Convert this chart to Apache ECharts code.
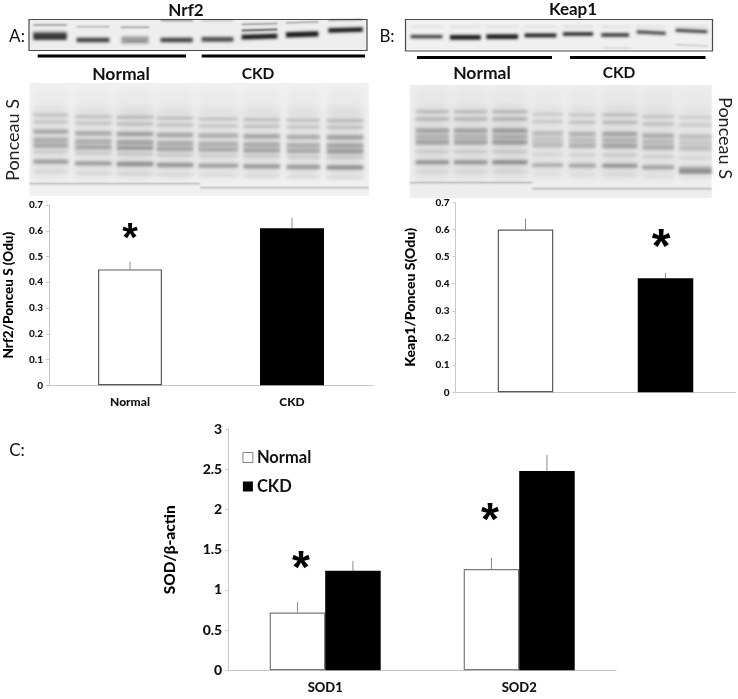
<!DOCTYPE html>
<html><head><meta charset="utf-8">
<style>html,body{margin:0;padding:0;background:#fff}#c{width:738px;height:699px}</style>
<script src="https://cdn.jsdelivr.net/npm/echarts@6/dist/echarts.min.js"></script>
</head><body><div id="c"></div>
<script>
// ---- chart values ----
const nrfCats = ['Normal', 'CKD'];
const nrfValues = [0.45, 0.61];
const nrfErrTop = [0.48, 0.65];
const keapCats = ['', ''];
const keapValues = [0.60, 0.42];
const keapErrTop = [0.64, 0.44];
const sodCats = ['SOD1', 'SOD2'];
const sodNormal = [0.72, 1.26];
const sodCKD = [1.24, 2.48];
const sodNormalErrTop = [0.85, 1.40];
const sodCKDErrTop = [1.36, 2.68];

// ---- blot appearance (zoomed-crop units, 1/3 px) ----
const blotALanes = [[100,200],[230,328],[362,447],[482,578],[605,700],[725,832],[858,955],[985,1088]];
const blotAMainY = [110,120,120,120,118,110,103,90];
const blotAMainH = [20,14,26,14,14,14,16,14];
const blotAMainD = [.85,.8,.4,.8,.75,1,1,1];
const blotAUpperY = [75,80,82,62,62,72,67,60];
const blotAUpperD = [.45,.35,.45,.5,.25,.45,.45,.4];
const blotBLanes = [[125,220],[243,335],[352,447],[467,562],[582,672],[697,780],[803,890],[920,1015]];
const blotBMainY = [110,112,110,106,102,105,98,93];
const blotBMainH = [10,14,14,11,10,11,10,9];
const blotBMainD = [.85,1,1,1,1,.85,.8,.85];
const pA = {lanes:[[100,205],[225,335],[350,460],[470,580],[595,715],[730,840],[860,960],[980,1090]],
  shift:[0,5,7,10,12,14,16,17], mul:[.9,.9,1.05,.95,.85,.95,.9,1.05], dx:0};
const pB = {lanes:[[140,240],[255,355],[370,475],[490,582],[600,680],[700,805],[820,915],[930,1028]],
  shift:[0,0,0,8,10,10,15,18], mul:[1,1,1.1,.65,.8,1,.85,.6], dx:369};
const pABands = [[345,9,.2],[365,9,.18],[395,14,.3],[420,16,.28],[437,14,.32],[455,9,.14],[485,13,.38],[515,7,.08]];
const pBBands = [[335,8,.2],[357,10,.2],[392,14,.3],[410,14,.24],[427,15,.3],[455,8,.12],[487,12,.38],[515,6,.06]];

const BLACK = '#000', AXIS = '#c8c8c8', ERR = '#8c8c8c', FONT = 'Lato, "Open Sans", sans-serif';
const OFF = 2000;

// a soft band: the rect sits off canvas and only its blurred shadow lands on the blot
function band(dx,x0,x1,yc,h,a,rot,blur){
  const w=(x1-x0)/3,hh=h/3,x=dx+x0/3,y=yc/3-hh/2;
  const el={type:'rect',shape:{x:x-OFF,y,width:w,height:hh},silent:true,
    style:{fill:'#000',shadowColor:`rgba(25,25,25,${Math.min(a,1)})`,shadowBlur:blur||3,shadowOffsetX:OFF}};
  if(rot){el.rotation=rot;el.originX=x-OFF+w/2;el.originY=y+hh/2;}
  return el;
}
function txt(x,y,text,size,opt){
  return Object.assign({type:'text',x,y,silent:true,style:{text,fontSize:size,fontFamily:FONT,fontWeight:(opt&&opt.bold)?'bold':'normal',
    fill:(opt&&opt.fill)||'#111',align:(opt&&opt.align)||'center',verticalAlign:'middle'}},opt&&opt.rot?{rotation:opt.rot}:{});
}
function line(x1,x2,y,w){return {type:'rect',shape:{x:x1,y:y-w/2,width:x2-x1,height:w},style:{fill:'#000'},silent:true};}

const g=[];
// blot A
g.push({type:'rect',shape:{x:29,y:19.5,width:338,height:31},style:{fill:'#eeeeee',stroke:'#4a4a4a',lineWidth:1.2},silent:true});
blotALanes.forEach((l,i)=>{
  g.push(band(0,l[0],l[1],blotAMainY[i],blotAMainH[i],blotAMainD[i],i>4?0.03:0));
  g.push(band(0,l[0],l[1],blotAUpperY[i],4,blotAUpperD[i],i>4?0.03:0,2));
});
g.push(band(0,725,832,90,6,.7,0.03,2));
g.push(band(0,100,200,100,14,.3));
// blot B
g.push({type:'rect',shape:{x:405.5,y:19.5,width:307,height:31.5},style:{fill:'#f0f0f0',stroke:'#4a4a4a',lineWidth:1.2},silent:true});
blotBLanes.forEach((l,i)=>{
  g.push(band(369,l[0],l[1],blotBMainY[i],blotBMainH[i],blotBMainD[i],i>5?-0.05:0));
  g.push(band(369,l[0],l[1],80,4,.12));
});
g.push(band(369,920,1015,136,3,.3,-0.05,2));
g.push(band(369,700,785,144,3,.18,0,2));
// ponceau backgrounds and bands
g.push({type:'rect',shape:{x:29.5,y:83,width:339.5,height:113},style:{fill:'#f1f1f1'},silent:true});
g.push({type:'rect',shape:{x:409.7,y:85,width:302,height:113},style:{fill:'#eeeeee'},silent:true});
[[pA,pABands],[pB,pBBands]].forEach(([p,bands])=>{
  p.lanes.forEach((l,i)=>{
    g.push(band(p.dx,l[0],l[1],300,70,.03*p.mul[i],0,8));
    g.push(band(p.dx,l[0],l[1],430,210,.08*p.mul[i],0,8));
    bands.forEach(b=>g.push(band(p.dx,l[0],l[1],b[0]+p.shift[i],b[1],b[2]*p.mul[i])));
  });
});
g.push(band(369,930,1028,515,14,.4));
g.push(band(0,88,600,551,4,.34,0,2), band(0,600,1107,563,4,.34,0,2));
g.push(band(369,122,490,548,4,.34,0,2), band(369,490,1028,566,4,.34,0,2));
// group underlines
g.push(line(37.7,186,56,3), line(201.7,365,56,3), line(417,552,57.5,3), line(570,705.5,57.5,3));
// texts
g.push(txt(186,11,'Nrf2',17,{bold:true}), txt(573,10,'Keap1',17,{bold:true}));
g.push(txt(17,37,'A:',17), txt(387,37,'B:',17), txt(17,451,'C:',17));
g.push(txt(121,74,'Normal',17.5,{bold:true}), txt(258,74,'CKD',15.5,{bold:true}));
g.push(txt(482,73,'Normal',17.5,{bold:true}), txt(619,73,'CKD',15.5,{bold:true}));
g.push(txt(13,140,'Ponceau S',18,{rot:Math.PI/2,fill:'#222'}));
g.push(txt(725,138,'Ponceau S',18,{rot:-Math.PI/2,fill:'#222'}));
// significance stars
const STAR='"Liberation Sans", sans-serif';
[[130,240,40],[661,249,48],[301,570,46],[490,522,46]].forEach(s=>{
  g.push({type:'text',x:s[0],y:s[1],silent:true,style:{text:'*',fontSize:s[2],fontFamily:STAR,fontWeight:'bold',fill:'#000',align:'center',verticalAlign:'middle'}});
});

function errSeries(xi,values,tops,offset){
  return {type:'custom',xAxisIndex:xi,yAxisIndex:xi,silent:true,z:1,
    data:values.map((v,i)=>[i,v,tops[i]]),
    encode:{x:0,y:[1,2]},
    renderItem(params,api){
      const a=api.coord([api.value(0),api.value(1)]),b=api.coord([api.value(0),api.value(2)]);
      return {type:'line',shape:{x1:a[0]+offset,y1:a[1],x2:b[0]+offset,y2:b[1]},style:{stroke:ERR,lineWidth:1}};
    }};
}
const WHITE={color:'#fff',borderColor:'#5a5a5a',borderWidth:1.2};
const WHITEC={color:'#fff',borderColor:'#7a7a7a',borderWidth:1.2};
const DARK={color:BLACK};
const xAxis=(gi,cats,size)=>({gridIndex:gi,type:'category',data:cats,
  axisLine:{lineStyle:{color:AXIS,width:1}},axisTick:{show:false},
  axisLabel:{color:'#111',fontFamily:FONT,fontWeight:900,fontSize:size,margin:11}});
const yAxis=(gi,max,interval,size,name,gap,nameSize)=>({gridIndex:gi,type:'value',min:0,max,interval,
  name,nameLocation:'middle',nameGap:gap,nameTextStyle:{color:'#000',fontFamily:FONT,fontWeight:900,fontSize:nameSize},
  axisLine:{show:true,lineStyle:{color:AXIS,width:1}},axisTick:{show:true,length:3,lineStyle:{color:AXIS}},splitLine:{show:false},
  axisLabel:{color:'#111',fontFamily:FONT,fontWeight:900,fontSize:size,margin:6,formatter:v=>String(v)}});

const option={
  animation:false,backgroundColor:'#fff',
  grid:[
    {left:49,top:205,width:324,height:180.3,outerBoundsMode:'none'},
    {left:455.5,top:202.3,width:280,height:190,outerBoundsMode:'none'},
    {left:228.2,top:429.3,width:388,height:241,outerBoundsMode:'none'}
  ],
  xAxis:[xAxis(0,nrfCats,12),xAxis(1,keapCats,12),xAxis(2,sodCats,13)],
  yAxis:[yAxis(0,0.7,0.1,10,'Nrf2/Ponceu S (Odu)',33,13.5),
         yAxis(1,0.7,0.1,10,'Keap1/Ponceu S(Odu)',38,14),
         yAxis(2,3,0.5,14,'SOD/β-actin',50,15.5)],
  legend:{data:[{name:'Normal',icon:'rect',itemStyle:{borderWidth:.8,borderColor:'#666'}},{name:'CKD',icon:'rect'}],orient:'vertical',left:242.5,top:449,itemWidth:10,itemHeight:10,itemGap:12,
    selectedMode:false,textStyle:{fontFamily:FONT,fontWeight:'bold',fontSize:16.5,color:'#111',padding:[0,0,0,-1]},padding:0},
  series:[
    {type:'bar',xAxisIndex:0,yAxisIndex:0,barWidth:64,data:[{value:nrfValues[0],itemStyle:WHITE},{value:nrfValues[1],itemStyle:DARK}]},
    errSeries(0,nrfValues,nrfErrTop,0),
    {type:'bar',xAxisIndex:1,yAxisIndex:1,barWidth:55.5,data:[{value:keapValues[0],itemStyle:WHITE},{value:keapValues[1],itemStyle:DARK}]},
    errSeries(1,keapValues,keapErrTop,0),
    {type:'bar',name:'Normal',xAxisIndex:2,yAxisIndex:2,barWidth:55.5,barGap:0,data:sodNormal,itemStyle:WHITEC},
    {type:'bar',name:'CKD',xAxisIndex:2,yAxisIndex:2,barWidth:55.5,barGap:0,data:sodCKD,itemStyle:DARK},
    errSeries(2,sodNormal,sodNormalErrTop,-27.75),
    errSeries(2,sodCKD,sodCKDErrTop,27.75)
  ],
  graphic:{elements:g}
};
echarts.init(document.getElementById('c'),null,{renderer:'canvas'}).setOption(option);
</script></body></html>
